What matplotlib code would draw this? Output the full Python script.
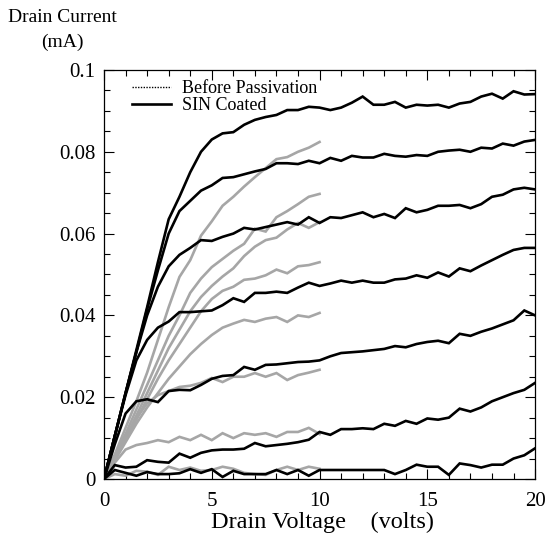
import numpy as np
import matplotlib
matplotlib.use('Agg')
import matplotlib.pyplot as plt
from matplotlib.lines import Line2D
from matplotlib.ticker import MultipleLocator, FixedLocator, FixedFormatter

plt.rcParams['font.family'] = ['Liberation Serif', 'DejaVu Serif']

# drain voltage grids (volts)
v_coated = np.arange(0, 20.01, 0.5)
v_before = np.arange(0, 10.01, 0.5)

# SIN coated curves (mA), 0..20 V
coated_1 = [0, 0.0105, 0.021, 0.0315, 0.042, 0.053, 0.0635, 0.069, 0.075, 0.080, 0.083,
            0.0845, 0.0848, 0.0866, 0.0878, 0.0885, 0.089, 0.0902, 0.0902, 0.091, 0.0908,
            0.0902, 0.0908, 0.092, 0.0935, 0.0915, 0.0915, 0.0922, 0.0908, 0.0915, 0.0913,
            0.0915, 0.0908, 0.0918, 0.0922, 0.0935, 0.0942, 0.0930, 0.0948, 0.0940, 0.0941]
coated_2 = [0, 0.0105, 0.021, 0.031, 0.0415, 0.051, 0.060, 0.0655, 0.068, 0.0705, 0.0718,
            0.0736, 0.0738, 0.0745, 0.0752, 0.0758, 0.0772, 0.0772, 0.0770, 0.0778, 0.0772,
            0.0785, 0.0778, 0.0790, 0.0786, 0.0786, 0.0795, 0.0790, 0.0788, 0.0792, 0.0790,
            0.0800, 0.0803, 0.0805, 0.0800, 0.0810, 0.0808, 0.0820, 0.0815, 0.0825, 0.0829]
coated_3 = [0, 0.0105, 0.021, 0.031, 0.040, 0.047, 0.052, 0.0548, 0.0565, 0.0584, 0.0582,
            0.0592, 0.0600, 0.0614, 0.0610, 0.0616, 0.0622, 0.0628, 0.0622, 0.0640, 0.0626,
            0.0640, 0.0638, 0.0645, 0.0652, 0.0640, 0.0648, 0.0638, 0.0662, 0.0652, 0.0658,
            0.0668, 0.0668, 0.0670, 0.0662, 0.0672, 0.0690, 0.0695, 0.0708, 0.0712, 0.0708]
coated_4 = [0, 0.0105, 0.0205, 0.029, 0.034, 0.037, 0.0385, 0.0408, 0.0408, 0.0410, 0.0412,
            0.0425, 0.0442, 0.0433, 0.0455, 0.0455, 0.0458, 0.0455, 0.0468, 0.0480, 0.0472,
            0.0478, 0.0485, 0.0480, 0.0485, 0.0480, 0.0480, 0.0488, 0.0490, 0.0498, 0.0492,
            0.0505, 0.0495, 0.0515, 0.0508, 0.0522, 0.0535, 0.0548, 0.0560, 0.0565, 0.0565]
coated_5 = [0, 0.0085, 0.0160, 0.0190, 0.0195, 0.0188, 0.0215, 0.0218, 0.0217, 0.0230, 0.0245,
            0.0252, 0.0254, 0.0274, 0.0267, 0.0279, 0.0280, 0.0283, 0.0286, 0.0287, 0.0290,
            0.0300, 0.0308, 0.0310, 0.0312, 0.0315, 0.0318, 0.0325, 0.0322, 0.0330, 0.0335,
            0.0338, 0.0332, 0.0355, 0.0350, 0.0360, 0.0368, 0.0378, 0.0388, 0.0412, 0.0400]
coated_6 = [0, 0.0034, 0.0028, 0.0030, 0.0046, 0.0042, 0.0040, 0.0062, 0.0052, 0.0064, 0.0070,
            0.0072, 0.0072, 0.0074, 0.0088, 0.0080, 0.0083, 0.0086, 0.0090, 0.0096, 0.0115,
            0.0108, 0.0122, 0.0122, 0.0124, 0.0122, 0.0135, 0.0130, 0.0142, 0.0135, 0.0148,
            0.0145, 0.0150, 0.0172, 0.0165, 0.0175, 0.0190, 0.0200, 0.0210, 0.0218, 0.0235]
coated_7 = [0, 0.0022, 0.0015, 0.0008, 0.0017, 0.0012, 0.0012, 0.0014, 0.0024, 0.0015, 0.0024,
            0.0005, 0.0020, 0.0012, 0.0012, 0.0012, 0.0022, 0.0012, 0.0022, 0.0008, 0.0022,
            0.0022, 0.0022, 0.0022, 0.0022, 0.0022, 0.0022, 0.0012, 0.0022, 0.0035, 0.0030,
            0.0030, 0.0010, 0.0038, 0.0034, 0.0028, 0.0035, 0.0035, 0.0050, 0.0058, 0.0075]

# before passivation curves (mA), 0..10 V
before_1 = [0, 0.006, 0.0125, 0.019, 0.026, 0.034, 0.042, 0.0494, 0.0535, 0.0595, 0.063,
            0.0668, 0.0690, 0.0715, 0.0738, 0.0760, 0.0782, 0.0787, 0.0800, 0.0810, 0.0824]
before_2 = [0, 0.0055, 0.011, 0.017, 0.023, 0.029, 0.035, 0.040, 0.0455, 0.049, 0.0518,
            0.0538, 0.0558, 0.0575, 0.0612, 0.0605, 0.0640, 0.0655, 0.0672, 0.0690, 0.0697]
before_3 = [0, 0.005, 0.010, 0.0155, 0.021, 0.0265, 0.032, 0.0365, 0.041, 0.0445, 0.0472,
            0.0495, 0.0515, 0.0545, 0.0568, 0.0584, 0.0590, 0.0610, 0.0626, 0.0614, 0.0628]
before_4 = [0, 0.0048, 0.0095, 0.0145, 0.0195, 0.0245, 0.029, 0.033, 0.037, 0.041, 0.0440,
            0.0460, 0.0470, 0.0487, 0.0490, 0.0498, 0.0512, 0.0503, 0.0520, 0.0523, 0.0530]
before_5 = [0, 0.0045, 0.009, 0.0135, 0.0175, 0.021, 0.0245, 0.0275, 0.0305, 0.0330, 0.0352,
            0.0370, 0.0380, 0.0389, 0.0384, 0.0392, 0.0396, 0.0384, 0.0400, 0.0396, 0.0406]
before_6 = [0, 0.0048, 0.010, 0.0148, 0.0185, 0.0205, 0.0215, 0.0225, 0.0228, 0.0235, 0.0247,
            0.0237, 0.0250, 0.0250, 0.0259, 0.0250, 0.0259, 0.0242, 0.0254, 0.0260, 0.0267]
before_7 = [0, 0.004, 0.0072, 0.0083, 0.0088, 0.0095, 0.0090, 0.0103, 0.0095, 0.0108, 0.0095,
            0.0112, 0.0100, 0.0112, 0.0108, 0.0112, 0.0103, 0.0115, 0.0115, 0.0125, 0.0110]
before_8 = [0, 0.0012, 0.0008, 0.0020, 0.0018, 0.0010, 0.0030, 0.0022, 0.0028, 0.0020, 0.0022,
            0.0030, 0.0025, 0.0015, 0.0012, 0.0010, 0.0022, 0.0030, 0.0022, 0.0030, 0.0025]

coated = [coated_1, coated_2, coated_3, coated_4, coated_5, coated_6, coated_7]
before = [before_1, before_2, before_3, before_4, before_5, before_6, before_7, before_8]

y_ticks = [0, 0.02, 0.04, 0.06, 0.08, 0.1]
y_labels = ['0', '0.02', '0.04', '0.06', '0.08', '0.1']
x_ticks = [0, 5, 10, 15, 20]

fig = plt.figure(figsize=(5.46, 5.45), dpi=100)
ax = fig.add_axes([0.1905, 0.1211, 0.7895, 0.7505])

for c in before:
    ax.plot(v_before, c, color='#a6a6a6', lw=1.9, solid_joinstyle='miter')
for c in coated:
    ax.plot(v_coated, c, color='black', lw=1.9, solid_joinstyle='miter')

ax.set_xlim(0, 20)
ax.set_ylim(0, 0.1)
ax.xaxis.set_major_locator(FixedLocator(x_ticks))
ax.xaxis.set_minor_locator(MultipleLocator(1))
ax.yaxis.set_major_locator(FixedLocator(y_ticks))
ax.yaxis.set_major_formatter(FixedFormatter(y_labels))
ax.yaxis.set_minor_locator(MultipleLocator(0.005))
ax.tick_params(which='both', direction='in', top=True, right=True, labelsize=15, width=0.8)
ax.tick_params(which='major', length=7)
ax.tick_params(which='minor', length=4)
ax.tick_params(axis='y', which='major', pad=6)
ax.tick_params(axis='x', which='major', pad=9)
for s in ax.spines.values():
    s.set_linewidth(0.9)

handles = [Line2D([], [], color='black', lw=1.0, linestyle=(0, (1, 1))),
           Line2D([], [], color='black', lw=1.9)]
ax.legend(handles, ['Before Passivation', 'SIN Coated'], loc='upper left',
          bbox_to_anchor=(0.065, 0.975), frameon=False, fontsize=13,
          borderaxespad=0, borderpad=0,
          handlelength=2.15, handletextpad=0.6, labelspacing=0.0)

fig.text(0.115, 0.968, 'Drain Current', ha='center', va='center', fontsize=14)
fig.text(0.115, 0.922, '(mA)', ha='center', va='center', fontsize=14)
fig.text(0.59, 0.042, 'Drain Voltage    (volts)', ha='center', va='center', fontsize=17.5)

fig.savefig('out.png', dpi=100)
